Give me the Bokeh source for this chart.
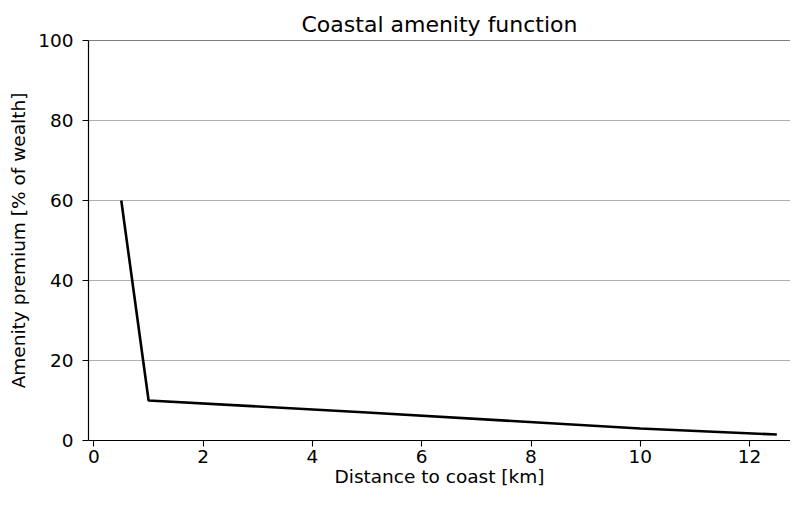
from bokeh.plotting import figure
from bokeh.models import Range1d, FixedTicker, ColumnDataSource, Span
from bokeh.embed import file_html
from bokeh.resources import INLINE

# Data
distance_km = [0.5, 1.0, 5.0, 10.0, 12.5]
premium_pct = [60.0, 10.0, 7.0, 3.0, 1.5]
x_ticks = [0, 2, 4, 6, 8, 10, 12]
y_ticks = [0, 20, 40, 60, 80, 100]

FONT = "DejaVu Sans"
LABEL_SIZE = "18.5px"

src = ColumnDataSource(data=dict(x=distance_km, y=premium_pct))

p = figure(width=790, height=489, output_backend="svg", toolbar_location=None,
           x_range=Range1d(-0.1, 12.75), y_range=Range1d(0, 100),
           min_border_left=88, min_border_right=0, min_border_top=40, min_border_bottom=49)

# top spine
p.add_layout(Span(location=100, dimension="width", line_color="black", line_width=1.2))

p.line("x", "y", source=src, line_color="black", line_width=2.6)

p.title.text = "Coastal amenity function"
p.title.text_font = FONT
p.title.text_font_size = "22px"
p.title.text_font_style = "normal"
p.title.text_color = "black"
p.title.align = "center"
p.title.offset = 4
p.title.standoff = 8

p.xaxis.ticker = FixedTicker(ticks=x_ticks)
p.yaxis.ticker = FixedTicker(ticks=y_ticks)
p.xaxis.axis_label = "Distance to coast [km]"
p.yaxis.axis_label = "Amenity premium [% of wealth]"

for ax in (p.xaxis, p.yaxis):
    ax.axis_label_text_font = FONT
    ax.axis_label_text_font_size = LABEL_SIZE
    ax.axis_label_text_font_style = "normal"
    ax.axis_label_text_color = "black"
    ax.major_label_text_font = FONT
    ax.major_label_text_font_size = LABEL_SIZE
    ax.major_label_text_color = "black"
    ax.axis_line_color = "black"
    ax.axis_line_width = 1.2
    ax.major_tick_line_color = "black"
    ax.major_tick_line_width = 1.1
    ax.major_tick_in = 0
    ax.major_tick_out = 6
    ax.minor_tick_line_color = None

p.xaxis.major_label_standoff = 3
p.xaxis.axis_label_standoff = 0
p.yaxis.major_label_standoff = 9
p.yaxis.axis_label_standoff = 6

p.xgrid.grid_line_color = None
p.ygrid.grid_line_color = "#b0b0b0"
p.ygrid.grid_line_width = 1.1

p.outline_line_color = None
p.background_fill_color = "white"
p.border_fill_color = "white"

open("out.html", "w").write(file_html(p, INLINE))
